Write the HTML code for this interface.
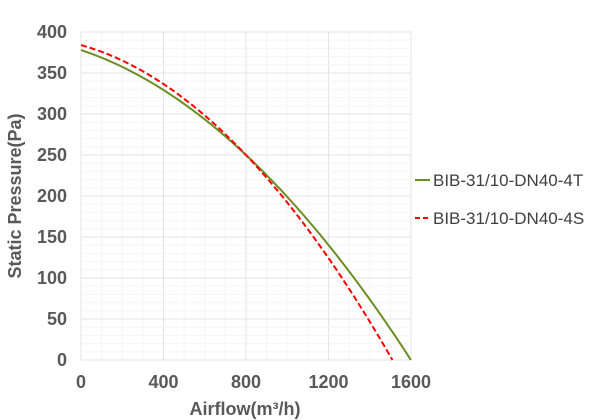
<!DOCTYPE html>
<html><head><meta charset="utf-8"><style>
body{margin:0;background:#fff;}
svg{display:block;font-family:"Liberation Sans",Arial,sans-serif;}
</style></head><body>
<svg id="s" width="600" height="420" viewBox="0 0 600 420">
<g id="grid"></g>
<g font-size="18" font-weight="bold" fill="#595959" id="yl" text-anchor="end"></g>
<g font-size="18" font-weight="bold" fill="#595959" id="xl" text-anchor="middle"></g>
<text x="245" y="415" font-size="18" font-weight="bold" fill="#595959" text-anchor="middle">Airflow(m³/h)</text>
<text transform="translate(21,196) rotate(-90)" font-size="18" font-weight="bold" fill="#595959" text-anchor="middle">Static Pressure(Pa)</text>
<path id="g" fill="none" stroke="#6b8e23" stroke-width="2"/>
<path id="r" fill="none" stroke="#ff0000" stroke-width="2" stroke-dasharray="6,3"/>
<line x1="415" y1="180" x2="430" y2="180" stroke="#6b8e23" stroke-width="2"/>
<text x="433" y="186" font-size="17" fill="#404040">BIB-31/10-DN40-4T</text>
<line x1="415" y1="218" x2="430" y2="218" stroke="#ff0000" stroke-width="2" stroke-dasharray="5,3"/>
<text x="433" y="224" font-size="17" fill="#404040">BIB-31/10-DN40-4S</text>
</svg>
<script>
var X=function(v){return 81+v*330/1600},Y=function(p){return 360-p*0.82};
var g='';
for(var i=0;i<=16;i++){var x=X(i*100);g+='<line x1="'+x+'" y1="32" x2="'+x+'" y2="360" stroke="'+(i%4?'#f5f5f5':'#e3e3e3')+'" stroke-width="1"/>';}
for(var j=0;j<=40;j++){var y=Y(j*10);g+='<line x1="81" y1="'+y+'" x2="411" y2="'+y+'" stroke="'+(j%5?'#f5f5f5':'#e3e3e3')+'" stroke-width="1"/>';}
document.getElementById('grid').innerHTML=g;
var yl='';for(var k=0;k<=8;k++){yl+='<text x="67" y="'+(Y(k*50)+6)+'">'+(k*50)+'</text>';}
document.getElementById('yl').innerHTML=yl;
var xl='';for(var m=0;m<=4;m++){xl+='<text x="'+X(m*400)+'" y="388">'+(m*400)+'</text>';}
document.getElementById('xl').innerHTML=xl;
function path(p0,a,b,xmax){var d='';for(var q=0;q<=xmax;q+=10){var p=p0-a*q-b*q*q;if(p<0)p=0;d+=(q?'L':'M')+X(q).toFixed(1)+','+Y(p).toFixed(1);}return d;}
document.getElementById('g').setAttribute('d',path(378,0.0838,9.53e-5,1600));
document.getElementById('r').setAttribute('d',path(384,0.0697,1.223e-4,1510));
</script>
</body></html>
